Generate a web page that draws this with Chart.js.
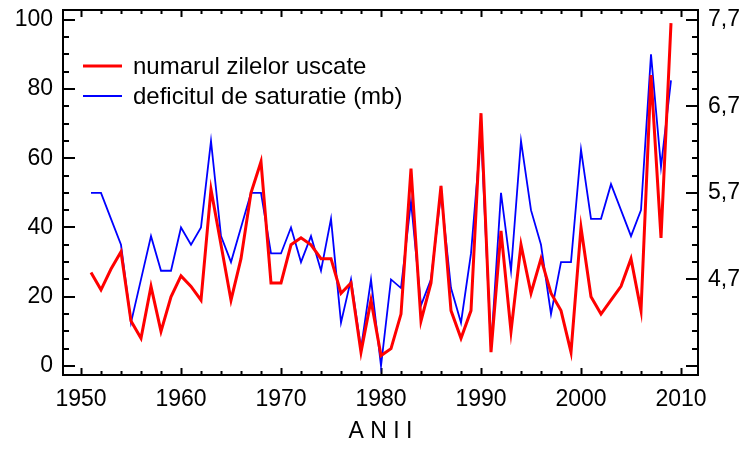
<!DOCTYPE html>
<html>
<head>
<meta charset="utf-8">
<script src="https://cdn.jsdelivr.net/npm/chart.js@4.4.1/dist/chart.umd.min.js"></script>
<style>
  body { margin: 0; background: #fff; }
  canvas { display: block; }
</style>
</head>
<body>
<canvas id="myChart" width="746" height="451"></canvas>
<script>
// years on the x axis
var years = [1951, 1952, 1953, 1954, 1955, 1956, 1957, 1958, 1959, 1960,
  1961, 1962, 1963, 1964, 1965, 1966, 1967, 1968, 1969, 1970,
  1971, 1972, 1973, 1974, 1975, 1976, 1977, 1978, 1979, 1980,
  1981, 1982, 1983, 1984, 1985, 1986, 1987, 1988, 1989, 1990,
  1991, 1992, 1993, 1994, 1995, 1996, 1997, 1998, 1999, 2000,
  2001, 2002, 2003, 2004, 2005, 2006, 2007, 2008, 2009];

// numarul zilelor uscate (left axis)
var dryDays = [27, 22, 28, 33, 13, 8, 23, 10, 20, 26,
  23, 19, 51, 35, 19, 31, 50, 59, 24, 24,
  35, 37, 35, 31, 31, 21, 24, 4, 19, 3,
  5, 15, 57, 13, 24, 52, 16, 8, 16, 73,
  4, 39, 10, 35, 21, 31, 21, 16, 4, 40,
  20, 15, 19, 23, 31, 16, 84, 37, 99];

// deficitul de saturatie, mb (right axis)
var deficit = [5.7, 5.7, 5.4, 5.1, 4.2, 4.7, 5.2, 4.8, 4.8, 5.3,
  5.1, 5.3, 6.3, 5.2, 4.9, 5.3, 5.7, 5.7, 5.0, 5.0,
  5.3, 4.9, 5.2, 4.8, 5.4, 4.2, 4.7, 3.9, 4.7, 3.7,
  4.7, 4.6, 5.6, 4.4, 4.7, 5.7, 4.6, 4.2, 5.0, 6.4,
  3.9, 5.7, 4.8, 6.3, 5.5, 5.1, 4.3, 4.9, 4.9, 6.2,
  5.4, 5.4, 5.8, 5.5, 5.2, 5.5, 7.3, 6.0, 7.0];

// tick labels
var xTicks = [1950, 1960, 1970, 1980, 1990, 2000, 2010];
var leftTicks = [0, 20, 40, 60, 80, 100];
var rightTicks = [4.7, 5.7, 6.7, 7.7];

var FONT = "'Liberation Sans', Arial, sans-serif";

// box + inward tick marks
var innerTicks = {
  id: 'innerTicks',
  beforeDatasetsDraw: function(chart) {
    var ctx = chart.ctx, a = chart.chartArea, s = chart.scales;
    ctx.save();
    ctx.strokeStyle = '#000';
    ctx.lineWidth = 2;
    ctx.beginPath();
    for (var v = 1950; v <= 2010; v += 2) {
      var px = Math.round(s.x.getPixelForValue(v)) + 0.5;
      var len = v % 10 === 0 ? 7 : 4;
      ctx.moveTo(px, a.bottom); ctx.lineTo(px, a.bottom - len);
      ctx.moveTo(px, a.top); ctx.lineTo(px, a.top + len);
    }
    for (var k = 0; k <= 20; k++) {
      var py = Math.round(s.y.getPixelForValue(k * 5));
      var l1 = k % 4 === 0 ? 12 : 6;
      ctx.moveTo(a.left, py); ctx.lineTo(a.left + l1, py);
      var py2 = Math.round(s.y1.getPixelForValue(3.7 + k * 0.2));
      var l2 = k % 5 === 0 ? 12 : 6;
      ctx.moveTo(a.right, py2); ctx.lineTo(a.right - l2, py2);
    }
    ctx.stroke();
    ctx.strokeRect(a.left, a.top, a.right - a.left, a.bottom - a.top);
    ctx.restore();
  }
};

// legend inside the plot, top left
var innerLegend = {
  id: 'innerLegend',
  afterDraw: function(chart) {
    var ctx = chart.ctx;
    ctx.save();
    ctx.font = '24px ' + FONT;
    ctx.textBaseline = 'middle';
    chart.data.datasets.forEach(function(ds, i) {
      var y = 66 + i * 30;
      ctx.strokeStyle = ds.borderColor;
      ctx.lineWidth = ds.borderWidth;
      ctx.beginPath();
      ctx.moveTo(83, y); ctx.lineTo(122, y);
      ctx.stroke();
      ctx.fillStyle = '#000';
      ctx.fillText(ds.label, 133, y + 1);
    });
    ctx.restore();
  }
};

function noPad(sc) {
  sc.paddingTop = 0; sc.paddingBottom = 0;
  sc.paddingLeft = 0; sc.paddingRight = 0;
}

var chart = new Chart(document.getElementById('myChart').getContext('2d'), {
  type: 'line',
  data: {
    datasets: [
      {
        label: 'numarul zilelor uscate',
        data: years.map(function(yr, i) { return {x: yr, y: dryDays[i]}; }),
        borderColor: '#ff0000',
        borderWidth: 3,
        pointRadius: 0,
        tension: 0,
        yAxisID: 'y'
      },
      {
        label: 'deficitul de saturatie (mb)',
        data: years.map(function(yr, i) { return {x: yr, y: deficit[i]}; }),
        borderColor: '#0000ff',
        borderWidth: 1.8,
        pointRadius: 0,
        tension: 0,
        yAxisID: 'y1'
      }
    ]
  },
  options: {
    responsive: false,
    animation: false,
    devicePixelRatio: 1,
    layout: { padding: { top: 10, left: 0, right: 0, bottom: 0 } },
    plugins: { legend: { display: false }, tooltip: { enabled: false } },
    scales: {
      x: {
        type: 'linear',
        min: 1948.2,
        max: 2011.7,
        afterBuildTicks: function(sc) { sc.ticks = xTicks.map(function(v) { return {value: v}; }); },
        afterFit: function(sc) { sc.height = 76; noPad(sc); },
        grid: { display: false, drawTicks: false },
        border: { display: false },
        ticks: {
          padding: 11,
          color: '#000',
          font: { family: FONT, size: 23 },
          maxRotation: 0,
          callback: function(v) { return String(v); }
        },
        title: {
          display: true,
          text: 'A N I I',
          color: '#000',
          font: { family: FONT, size: 23 },
          padding: { top: 0, bottom: 6 }
        }
      },
      y: {
        position: 'left',
        min: -2.6,
        max: 102.8,
        afterBuildTicks: function(sc) { sc.ticks = leftTicks.map(function(v) { return {value: v}; }); },
        afterFit: function(sc) { sc.width = 63; noPad(sc); },
        grid: { display: false, drawTicks: false },
        border: { display: false },
        ticks: {
          padding: 10,
          color: '#000',
          font: { family: FONT, size: 23 },
          callback: function(v) { return String(v); }
        }
      },
      y1: {
        position: 'right',
        min: 3.596,
        max: 7.812,
        afterBuildTicks: function(sc) { sc.ticks = rightTicks.map(function(v) { return {value: v}; }); },
        afterFit: function(sc) { sc.width = 48; noPad(sc); },
        grid: { display: false, drawTicks: false },
        border: { display: false },
        ticks: {
          padding: 10,
          color: '#000',
          font: { family: FONT, size: 23 },
          callback: function(v) { return v.toFixed(1).replace('.', ','); }
        }
      }
    }
  },
  plugins: [innerTicks, innerLegend]
});
</script>
</body>
</html>
